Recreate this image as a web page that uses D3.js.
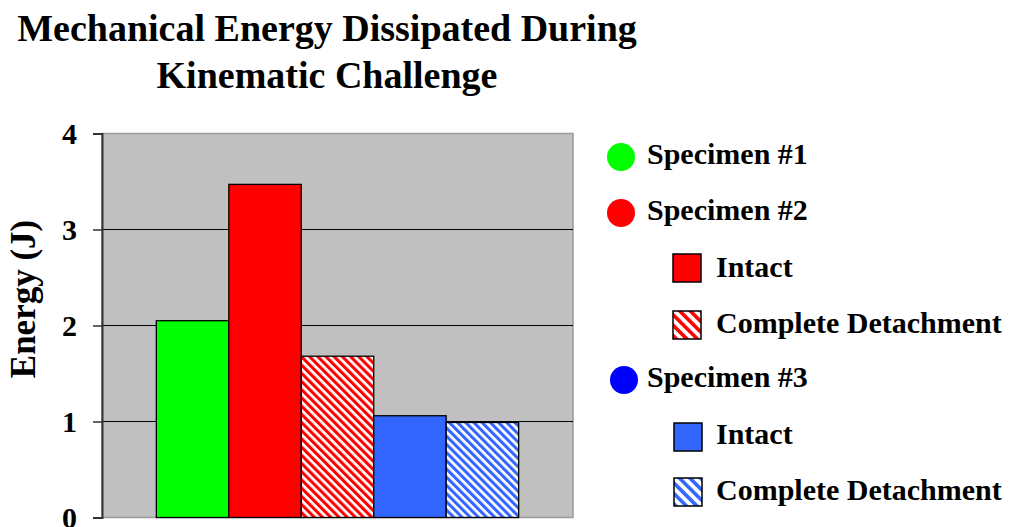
<!DOCTYPE html>
<html>
<head>
<meta charset="utf-8">
<script src="https://cdn.jsdelivr.net/npm/d3@7"></script>
<style>
html,body{margin:0;padding:0;background:#fff;overflow:hidden;}
svg{display:block;}
text{font-family:"Liberation Serif","Times New Roman",serif;font-weight:bold;fill:#000;}
</style>
</head>
<body>
<svg id="chart" width="1010" height="527"></svg>
<script>
// ---- data ----
const titleLines = ["Mechanical Energy Dissipated During", "Kinematic Challenge"];
const yLabel = "Energy (J)";
const categories = ["Specimen #1", "Specimen #2 Intact", "Specimen #2 Complete Detachment", "Specimen #3 Intact", "Specimen #3 Complete Detachment"];
const values = [2.05, 3.47, 1.68, 1.06, 0.99];
const yTicks = [0, 1, 2, 3, 4];
const legendLabels = ["Specimen #1", "Specimen #2", "Intact", "Complete Detachment", "Specimen #3", "Intact", "Complete Detachment"];

// ---- styles ----
const barFills = ["#00ff00", "#ff0000", "url(#hatchRed)", "#3366ff", "url(#hatchBlue)"];
const legendStyle = [
  {type: "circle", fill: "#00ff00", cx: 621, cy: 157, tx: 647, ty: 164},
  {type: "circle", fill: "#ff0000", cx: 621, cy: 213, tx: 647, ty: 220},
  {type: "square", fill: "#ff0000", x: 673, y: 254, tx: 716, ty: 277},
  {type: "square", fill: "url(#hatchRedL)", x: 673, y: 311, tx: 716, ty: 333},
  {type: "circle", fill: "#0000ff", cx: 624, cy: 380, tx: 647, ty: 387},
  {type: "square", fill: "#3366ff", x: 674, y: 423, tx: 716, ty: 444},
  {type: "square", fill: "url(#hatchBlueL)", x: 674, y: 478, tx: 716, ty: 500}
];

const svg = d3.select("#chart");
const defs = svg.append("defs");
function hatch(id, color, s, w) {
  const p = defs.append("pattern").attr("id", id)
    .attr("patternUnits", "userSpaceOnUse")
    .attr("width", s).attr("height", s)
    .attr("patternTransform", "rotate(-45)");
  p.append("rect").attr("width", s).attr("height", s).attr("fill", "#fff");
  p.append("rect").attr("width", w).attr("height", s).attr("fill", color);
}
hatch("hatchRed", "#ff0000", 5.8, 3.1);
hatch("hatchBlue", "#3366ff", 5.8, 3.1);
hatch("hatchRedL", "#ff0000", 7.4, 3.6);
hatch("hatchBlueL", "#3366ff", 7.4, 3.6);

const plot = {left: 102, right: 573, top: 133.5, bottom: 517.5};

const x = d3.scaleBand().domain(categories)
  .range([plot.left, plot.right]).paddingInner(0).paddingOuter(0.75);
const y = d3.scaleLinear().domain([0, 4]).range([plot.bottom, plot.top]);

// title
svg.append("g").selectAll("text").data(titleLines).join("text")
  .attr("x", 327).attr("y", (d, i) => 41 + i * 47)
  .attr("text-anchor", "middle").style("font-size", "38px")
  .text(d => d);

// plot background
svg.append("rect")
  .attr("x", plot.left).attr("y", plot.top)
  .attr("width", plot.right - plot.left).attr("height", plot.bottom - plot.top)
  .attr("fill", "#c0c0c0").attr("stroke", "#9a9a9a").attr("stroke-width", 1.5);

// gridlines
svg.append("g").selectAll("line").data(yTicks.filter(t => t > 0 && t < 4)).join("line")
  .attr("x1", plot.left).attr("x2", plot.right)
  .attr("y1", d => y(d)).attr("y2", d => y(d))
  .attr("stroke", "#000").attr("stroke-width", 1.2);

// bars
svg.append("g").selectAll("rect").data(values).join("rect")
  .attr("x", (d, i) => x(categories[i]))
  .attr("y", d => y(d))
  .attr("width", x.bandwidth())
  .attr("height", d => y(0) - y(d))
  .attr("fill", (d, i) => barFills[i])
  .attr("stroke", "#000").attr("stroke-width", 1.3);

// y axis
const yAxis = d3.axisLeft(y).tickValues(yTicks).tickSize(9).tickPadding(16).tickFormat(d3.format("d"));
const gy = svg.append("g").attr("transform", `translate(${plot.left},0)`).call(yAxis)
  .attr("font-size", 30).attr("font-family", "'Liberation Serif','Times New Roman',serif").attr("font-weight", "bold");
gy.select(".domain").attr("stroke", "#333").attr("stroke-width", 2);
gy.selectAll(".tick line").attr("stroke", "#333").attr("stroke-width", 1.5);
gy.selectAll(".tick text")
  .style("font-size", "30px").attr("fill", "#000")
  .attr("dy", "0.34em");

// y label
svg.append("text")
  .attr("transform", "translate(35,299) rotate(-90)")
  .attr("text-anchor", "middle").style("font-size", "35px")
  .text(yLabel);

// legend
const lg = svg.append("g");
legendLabels.forEach((lab, i) => {
  const s = legendStyle[i];
  if (s.type === "circle") {
    lg.append("circle").attr("cx", s.cx).attr("cy", s.cy).attr("r", 14).attr("fill", s.fill);
  } else {
    lg.append("rect").attr("x", s.x).attr("y", s.y).attr("width", 28).attr("height", 28)
      .attr("fill", s.fill).attr("stroke", "#000").attr("stroke-width", 1.5);
  }
  lg.append("text").attr("x", s.tx).attr("y", s.ty).style("font-size", "30px").text(lab);
});
</script>
</body>
</html>
